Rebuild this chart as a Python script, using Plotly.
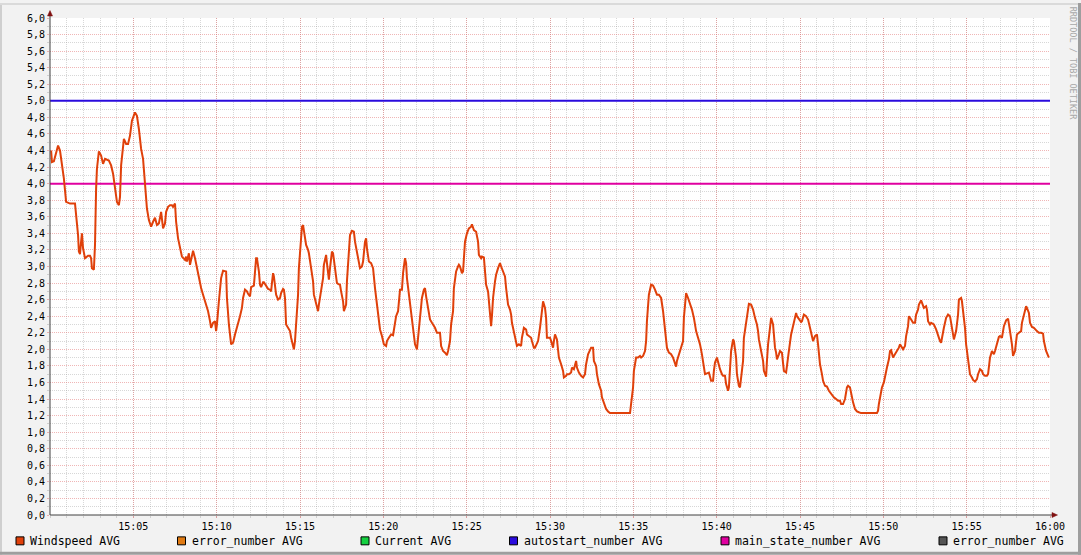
import pandas as pd
import plotly.graph_objects as go

# ---------------- data ----------------
day = "2024-01-01"
range_start = "15:00:00"
range_end = "16:00:00"

# seconds after 15:00 and windspeed average values
wind_seconds = [
    4, 7, 14, 22, 29, 36, 43, 50, 58, 72, 90, 94, 101, 104, 108, 112, 115, 119, 126, 137,
    144, 148, 151, 158, 162, 166, 169, 176, 184, 191, 198, 212, 220, 227, 234, 241, 248, 252, 256, 263,
    266, 274, 281, 288, 295, 306, 313, 320, 328, 335, 342, 349, 356, 364, 371, 378, 385, 392, 400, 403,
    407, 414, 418, 425, 432, 439, 443, 450, 454, 461, 468, 475, 486, 490, 493, 500, 504, 508, 515, 522,
    529, 536, 544, 551, 562, 569, 576, 580, 587, 594, 598, 601, 608, 616, 623, 634, 637, 644, 652, 659,
    666, 673, 684, 691, 695, 702, 709, 713, 720, 724, 731, 734, 742, 745, 752, 756, 760, 767, 770, 778,
    785, 792, 796, 799, 803, 806, 810, 814, 821, 828, 832, 839, 842, 846, 850, 857, 864, 868, 875, 878,
    882, 889, 893, 896, 904, 907, 911, 914, 922, 929, 932, 940, 947, 950, 958, 965, 968, 976, 983, 986,
    994, 997, 1001, 1004, 1008, 1015, 1019, 1026, 1033, 1037, 1044, 1048, 1055, 1058, 1066, 1069, 1073, 1080, 1087, 1094,
    1098, 1105, 1109, 1116, 1123, 1127, 1134, 1138, 1141, 1148, 1156, 1163, 1170, 1177, 1181, 1188, 1195, 1202, 1210, 1213,
    1220, 1228, 1235, 1238, 1246, 1253, 1256, 1260, 1267, 1271, 1278, 1282, 1285, 1292, 1300, 1303, 1310, 1314, 1321, 1328,
    1336, 1339, 1346, 1350, 1354, 1361, 1368, 1375, 1379, 1386, 1393, 1404, 1408, 1415, 1422, 1429, 1433, 1440, 1444, 1451,
    1454, 1462, 1469, 1472, 1476, 1483, 1487, 1490, 1494, 1501, 1508, 1516, 1519, 1526, 1534, 1541, 1544, 1552, 1555, 1562,
    1566, 1570, 1577, 1580, 1584, 1588, 1591, 1595, 1602, 1606, 1613, 1620, 1624, 1631, 1638, 1642, 1649, 1656, 1660, 1663,
    1670, 1678, 1681, 1688, 1696, 1699, 1706, 1714, 1717, 1724, 1732, 1735, 1742, 1746, 1753, 1757, 1764, 1771, 1775, 1782,
    1786, 1789, 1796, 1800, 1804, 1811, 1814, 1818, 1825, 1829, 1832, 1840, 1847, 1850, 1858, 1861, 1868, 1876, 1879, 1886,
    1894, 1897, 1904, 1912, 1919, 1926, 1930, 1937, 1944, 1948, 1955, 1958, 1966, 1969, 1976, 1984, 1987, 1994, 2002, 2009,
    2016, 2088, 2092, 2099, 2102, 2110, 2117, 2124, 2128, 2135, 2142, 2146, 2149, 2156, 2164, 2171, 2178, 2185, 2192, 2200,
    2207, 2214, 2221, 2228, 2236, 2243, 2250, 2254, 2257, 2264, 2272, 2279, 2282, 2290, 2297, 2304, 2311, 2318, 2326, 2333,
    2340, 2347, 2351, 2358, 2365, 2372, 2380, 2387, 2390, 2394, 2401, 2405, 2412, 2419, 2423, 2430, 2434, 2441, 2444, 2452,
    2459, 2462, 2470, 2473, 2480, 2484, 2488, 2495, 2498, 2506, 2513, 2516, 2524, 2531, 2538, 2545, 2549, 2552, 2560, 2567,
    2570, 2578, 2581, 2585, 2592, 2596, 2603, 2606, 2610, 2614, 2617, 2624, 2628, 2635, 2639, 2642, 2650, 2653, 2660, 2668,
    2671, 2678, 2686, 2689, 2696, 2704, 2707, 2711, 2714, 2722, 2729, 2736, 2743, 2747, 2754, 2761, 2765, 2772, 2779, 2783,
    2790, 2797, 2804, 2812, 2819, 2822, 2830, 2837, 2844, 2848, 2855, 2862, 2869, 2873, 2880, 2884, 2891, 2898, 2905, 2912,
    2920, 2977, 2981, 2984, 2992, 2995, 3002, 3006, 3013, 3020, 3024, 3028, 3035, 3038, 3042, 3049, 3056, 3060, 3067, 3071,
    3078, 3082, 3089, 3092, 3100, 3107, 3114, 3118, 3125, 3128, 3136, 3143, 3146, 3154, 3157, 3161, 3168, 3172, 3179, 3182,
    3190, 3197, 3204, 3208, 3215, 3218, 3226, 3233, 3240, 3244, 3251, 3254, 3262, 3269, 3272, 3280, 3283, 3287, 3294, 3298,
    3305, 3312, 3319, 3323, 3330, 3337, 3341, 3348, 3355, 3359, 3366, 3373, 3377, 3380, 3384, 3391, 3398, 3402, 3409, 3416,
    3420, 3427, 3434, 3442, 3449, 3452, 3456, 3463, 3467, 3474, 3478, 3481, 3488, 3496, 3499, 3506, 3514, 3517, 3524, 3528,
    3535, 3542, 3546, 3553, 3560, 3568, 3575, 3578, 3586, 3593, 3596,
]
wind_values = [
    4.40, 4.26, 4.27, 4.38, 4.46, 4.40, 4.22, 4.06, 3.78, 3.76, 3.76, 3.62, 3.38, 3.18, 3.15, 3.30, 3.40, 3.22, 3.10, 3.13,
    3.13, 3.10, 2.98, 2.96, 3.26, 3.94, 4.18, 4.39, 4.34, 4.24, 4.30, 4.28, 4.22, 4.12, 3.94, 3.78, 3.74, 3.84, 4.22, 4.46,
    4.54, 4.48, 4.48, 4.58, 4.76, 4.86, 4.82, 4.66, 4.42, 4.30, 3.98, 3.70, 3.56, 3.48, 3.54, 3.59, 3.50, 3.52, 3.66, 3.58,
    3.46, 3.52, 3.66, 3.72, 3.74, 3.74, 3.72, 3.76, 3.54, 3.34, 3.22, 3.12, 3.08, 3.12, 3.06, 3.16, 3.02, 3.10, 3.19, 3.10,
    2.98, 2.84, 2.74, 2.66, 2.54, 2.46, 2.34, 2.26, 2.32, 2.34, 2.22, 2.30, 2.58, 2.86, 2.95, 2.94, 2.62, 2.30, 2.06, 2.08,
    2.18, 2.26, 2.40, 2.50, 2.62, 2.72, 2.70, 2.67, 2.64, 2.75, 2.76, 2.77, 3.10, 3.10, 2.94, 2.78, 2.75, 2.81, 2.81, 2.76,
    2.73, 2.72, 2.70, 2.80, 2.92, 2.88, 2.76, 2.66, 2.60, 2.62, 2.68, 2.73, 2.72, 2.62, 2.30, 2.26, 2.22, 2.14, 2.06, 2.00,
    2.10, 2.42, 2.66, 2.98, 3.30, 3.48, 3.50, 3.42, 3.26, 3.20, 3.16, 2.98, 2.82, 2.66, 2.54, 2.46, 2.54, 2.74, 2.86, 3.02,
    3.14, 3.04, 2.90, 2.84, 2.98, 3.18, 3.16, 3.00, 2.80, 2.79, 2.78, 2.70, 2.58, 2.46, 2.54, 2.82, 3.08, 3.38, 3.43, 3.42,
    3.30, 3.18, 3.08, 2.98, 3.00, 3.06, 3.30, 3.34, 3.22, 3.06, 3.04, 2.98, 2.74, 2.54, 2.38, 2.24, 2.16, 2.06, 2.04, 2.10,
    2.14, 2.18, 2.17, 2.24, 2.40, 2.46, 2.58, 2.72, 2.72, 2.92, 3.10, 3.04, 2.86, 2.66, 2.46, 2.36, 2.18, 2.06, 2.00, 2.26,
    2.50, 2.62, 2.72, 2.74, 2.64, 2.50, 2.36, 2.32, 2.30, 2.26, 2.20, 2.20, 2.04, 1.98, 1.96, 1.93, 1.98, 2.10, 2.30, 2.46,
    2.74, 2.94, 3.00, 3.02, 3.00, 2.92, 2.94, 3.06, 3.30, 3.40, 3.46, 3.48, 3.51, 3.44, 3.42, 3.30, 3.14, 3.10, 3.12, 3.11,
    2.98, 2.78, 2.70, 2.58, 2.46, 2.28, 2.40, 2.62, 2.82, 2.90, 2.98, 3.04, 3.00, 2.94, 2.88, 2.74, 2.54, 2.48, 2.42, 2.32,
    2.20, 2.08, 2.04, 2.06, 2.04, 2.14, 2.26, 2.24, 2.18, 2.16, 2.14, 2.10, 2.02, 2.02, 2.06, 2.10, 2.26, 2.46, 2.58, 2.50,
    2.38, 2.14, 2.14, 2.14, 2.10, 2.02, 2.10, 2.18, 2.12, 2.02, 1.90, 1.82, 1.74, 1.66, 1.68, 1.70, 1.70, 1.72, 1.78, 1.76,
    1.86, 1.78, 1.72, 1.68, 1.66, 1.70, 1.82, 1.94, 1.98, 2.02, 2.02, 1.86, 1.80, 1.70, 1.58, 1.50, 1.42, 1.34, 1.28, 1.25,
    1.23, 1.23, 1.34, 1.54, 1.74, 1.90, 1.90, 1.92, 1.90, 1.92, 1.98, 2.10, 2.34, 2.66, 2.78, 2.77, 2.72, 2.66, 2.66, 2.62,
    2.46, 2.26, 2.02, 1.96, 1.94, 1.90, 1.82, 1.79, 1.86, 1.94, 2.00, 2.10, 2.38, 2.68, 2.62, 2.56, 2.48, 2.38, 2.22, 2.14,
    2.06, 1.94, 1.86, 1.70, 1.71, 1.72, 1.62, 1.62, 1.74, 1.84, 1.90, 1.84, 1.76, 1.70, 1.68, 1.68, 1.58, 1.50, 1.54, 1.98,
    2.12, 2.10, 1.90, 1.70, 1.56, 1.54, 1.66, 1.86, 2.14, 2.34, 2.46, 2.55, 2.54, 2.48, 2.38, 2.30, 2.22, 2.12, 1.98, 1.86,
    1.74, 1.67, 1.86, 2.06, 2.26, 2.38, 2.30, 2.14, 2.02, 1.96, 1.88, 1.94, 1.98, 1.96, 1.86, 1.74, 1.72, 1.82, 1.98, 2.18,
    2.22, 2.34, 2.44, 2.40, 2.36, 2.33, 2.34, 2.40, 2.42, 2.40, 2.36, 2.26, 2.14, 2.10, 2.16, 2.18, 2.06, 1.82, 1.70, 1.62,
    1.56, 1.55, 1.50, 1.46, 1.44, 1.42, 1.40, 1.38, 1.38, 1.34, 1.34, 1.40, 1.54, 1.56, 1.54, 1.46, 1.36, 1.28, 1.25, 1.24,
    1.23, 1.23, 1.26, 1.34, 1.46, 1.54, 1.60, 1.68, 1.78, 1.88, 1.98, 1.99, 1.90, 1.92, 1.94, 1.98, 2.02, 2.06, 2.02, 2.00,
    2.04, 2.16, 2.28, 2.40, 2.36, 2.32, 2.32, 2.42, 2.48, 2.54, 2.59, 2.52, 2.50, 2.52, 2.48, 2.34, 2.30, 2.32, 2.31, 2.30,
    2.24, 2.16, 2.10, 2.08, 2.18, 2.26, 2.38, 2.42, 2.40, 2.32, 2.20, 2.12, 2.22, 2.42, 2.60, 2.62, 2.58, 2.46, 2.26, 2.06,
    1.86, 1.70, 1.66, 1.63, 1.61, 1.64, 1.70, 1.76, 1.74, 1.70, 1.68, 1.68, 1.70, 1.78, 1.90, 1.98, 1.94, 1.98, 2.06, 2.15,
    2.16, 2.14, 2.28, 2.35, 2.37, 2.32, 2.22, 2.06, 1.92, 1.98, 2.10, 2.18, 2.20, 2.22, 2.32, 2.42, 2.52, 2.50, 2.44, 2.32,
    2.27, 2.26, 2.24, 2.22, 2.20, 2.20, 2.19, 2.10, 1.98, 1.92, 1.90,
]

autostart_level = 5.0
main_state_level = 4.0

series_names = ["Windspeed AVG", "error_number AVG", "Current AVG",
                "autostart_number AVG", "main_state_number AVG", "error_number AVG"]
series_colors = ["#E0400A", "#E07A12", "#14D040", "#2A0BDD", "#E000A0", "#555555"]

x_tick_labels = ["15:05", "15:10", "15:15", "15:20", "15:25", "15:30",
                 "15:35", "15:40", "15:45", "15:50", "15:55", "16:00"]
y_min, y_max = 0.0, 6.0
watermark = "RRDTOOL / TOBI OETIKER"

# ---------------- layout helpers (pixel -> paper) ----------------
W, H = 1081, 555
PL, PR, PT, PB = 50, 1050, 15, 515


def px(x):
    return (x - PL) / (PR - PL)


def py(y):
    return (PB - y) / (PB - PT)


base = pd.Timestamp(f"{day} {range_start}")
times = base + pd.to_timedelta(wind_seconds, unit="s")
t0 = pd.Timestamp(f"{day} {range_start}")
t1 = pd.Timestamp(f"{day} {range_end}")
tick_vals = [pd.Timestamp(f"{day} {t}:00") for t in x_tick_labels]

fig = go.Figure()

fig.add_trace(go.Scatter(x=[t0, t1], y=[autostart_level] * 2, mode="lines",
                         line=dict(color=series_colors[3], width=2), showlegend=False,
                         name=series_names[3]))
fig.add_trace(go.Scatter(x=[t0, t1], y=[main_state_level] * 2, mode="lines",
                         line=dict(color=series_colors[4], width=2), showlegend=False,
                         name=series_names[4]))
fig.add_trace(go.Scatter(x=times, y=wind_values, mode="lines",
                         line=dict(color=series_colors[0], width=2), showlegend=False,
                         name=series_names[0]))

mono = "DejaVu Sans Mono"
major_grid = "rgba(225,110,110,0.50)"
minor_grid = "rgba(150,150,150,0.38)"

fig.update_layout(
    width=W, height=H, autosize=False,
    margin=dict(l=PL, r=W - PR, t=PT, b=H - PB, pad=0),
    paper_bgcolor="#F2F2F2", plot_bgcolor="#FFFFFF",
    separators=",.",
    showlegend=False,
    font=dict(family=mono, size=10, color="#000000"),
)

fig.update_xaxes(
    type="date", range=[t0, t1],
    tickmode="array", tickvals=tick_vals, ticktext=x_tick_labels,
    showgrid=True, gridcolor=major_grid, griddash="1px,1px", gridwidth=1,
    ticks="outside", ticklen=2, tickcolor=major_grid,
    tickfont=dict(family=mono, size=10, color="#000000"),
    minor=dict(tickmode="linear", tick0=t0, dtick=60000, showgrid=True,
               gridcolor=minor_grid, griddash="1px,1px",
               ticks="outside", ticklen=2, tickcolor=minor_grid),
    showline=False, zeroline=False, fixedrange=True,
)
fig.update_yaxes(
    range=[y_min, y_max], tickmode="linear", tick0=0, dtick=0.2, tickformat=".1f",
    showgrid=True, gridcolor=major_grid, griddash="1px,1px", gridwidth=1,
    ticks="outside", ticklen=2, tickcolor=major_grid,
    tickfont=dict(family=mono, size=10, color="#000000"),
    minor=dict(tickmode="linear", tick0=0, dtick=0.1, showgrid=True,
               gridcolor=minor_grid, griddash="1px,1px",
               ticks="outside", ticklen=2, tickcolor=minor_grid),
    showline=False, zeroline=False, fixedrange=True,
)

shapes = []
# axes lines
axis_col = "#404040"
shapes.append(dict(type="line", xref="paper", yref="paper", x0=px(50), x1=px(50),
                   y0=py(515), y1=py(11), line=dict(color=axis_col, width=1)))
shapes.append(dict(type="line", xref="paper", yref="paper", x0=px(50), x1=px(1054),
                   y0=py(515), y1=py(515), line=dict(color=axis_col, width=1)))
# arrows
arrow_col = "#801010"
shapes.append(dict(type="path", xref="paper", yref="paper",
                   path=f"M {px(47.5)} {py(13)} L {px(52.5)} {py(13)} L {px(50)} {py(7.5)} Z",
                   fillcolor=arrow_col, line=dict(color=arrow_col, width=0.5)))
shapes.append(dict(type="path", xref="paper", yref="paper",
                   path=f"M {px(1052)} {py(512.5)} L {px(1052)} {py(517.5)} L {px(1057.5)} {py(515)} Z",
                   fillcolor=arrow_col, line=dict(color=arrow_col, width=0.5)))
# frame shades
shapes.append(dict(type="rect", xref="paper", yref="paper", x0=px(0), x1=px(2), y0=py(0), y1=py(H),
                   fillcolor="#CFCFCF", line=dict(width=0)))
shapes.append(dict(type="rect", xref="paper", yref="paper", x0=px(0), x1=px(W), y0=py(0), y1=py(2),
                   fillcolor="#DADADA", line=dict(width=0)))
shapes.append(dict(type="rect", xref="paper", yref="paper", x0=px(W - 3), x1=px(W), y0=py(0), y1=py(H),
                   fillcolor="#9E9E9E", line=dict(width=0)))
shapes.append(dict(type="rect", xref="paper", yref="paper", x0=px(0), x1=px(W), y0=py(H - 3), y1=py(H),
                   fillcolor="#9E9E9E", line=dict(width=0)))

# legend
legend_box_x = [16, 177.5, 361, 509.5, 721, 939]
annotations = []
for name, col, bx in zip(series_names, series_colors, legend_box_x):
    shapes.append(dict(type="rect", xref="paper", yref="paper",
                       x0=px(bx), x1=px(bx + 8), y0=py(545), y1=py(537),
                       fillcolor=col, line=dict(color="#000000", width=1)))
    annotations.append(dict(xref="paper", yref="paper", x=px(bx + 12), y=py(541),
                            text=name, showarrow=False, xanchor="left", yanchor="middle",
                            font=dict(family=mono, size=11.5, color="#000000")))

annotations.append(dict(xref="paper", yref="paper", x=px(1073), y=py(60),
                        text=watermark, showarrow=False, textangle=90,
                        xanchor="center", yanchor="middle",
                        font=dict(family=mono, size=8.5, color="#A8A8A8")))

fig.update_layout(shapes=shapes, annotations=annotations)

fig.write_html("out.html", config={"displayModeBar": False},
               post_script="document.body.style.margin='0px';document.body.style.overflow='hidden';")
